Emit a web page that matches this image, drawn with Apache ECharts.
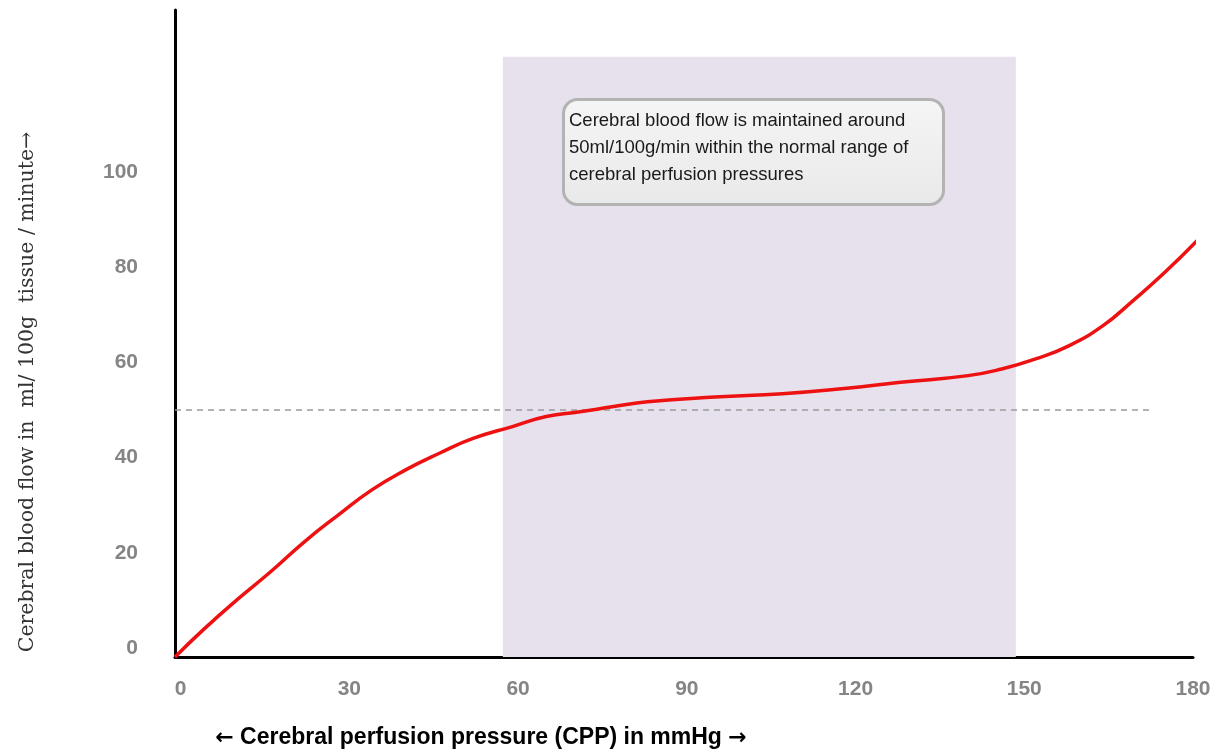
<!DOCTYPE html>
<html>
<head>
<meta charset="utf-8">
<script src="https://cdn.jsdelivr.net/npm/echarts@6/dist/echarts.min.js"></script>
<style>
html,body{margin:0;padding:0;background:#fff;}
#chart{width:1222px;height:754px;}
</style>
</head>
<body>
<div id="chart"></div>
<script>
// Data
var cppValues = [-1, 4, 10, 16, 22, 28, 34, 40, 46, 52, 59, 65, 71, 77, 83, 95, 107, 118, 128, 140, 146, 152, 158, 164, 169, 175, 181];
var cbfValues = [-1.9, 3.8, 10.1, 16, 22.3, 27.9, 33.2, 37.4, 40.9, 44, 46.5, 48.6, 49.6, 50.7, 51.7, 52.7, 53.4, 54.5, 55.8, 57.2, 58.6, 60.7, 63.5, 67.7, 72.6, 78.9, 85.9];
var xTickLabels = [0, 30, 60, 90, 120, 150, 180];
var yTickLabels = [0, 20, 40, 60, 80, 100];
var normalRange = [57.3, 148.5];
var normalFlow = 50;
var dashEnd = 172.4;
var noteLines = ['Cerebral blood flow is maintained around', '50ml/100g/min within the normal range of', 'cerebral perfusion pressures'];
var xTitle = 'Cerebral perfusion pressure (CPP) in mmHg';
var yTitle = 'Cerebral blood flow in  ml/ 100g  tissue / minute\u2192';

var chart = echarts.init(document.getElementById('chart'));
var sans = '"Liberation Sans", Arial, sans-serif';
var pts = cppValues.map(function (x, i) { return [x, cbfValues[i]]; });

chart.setOption({
  animation: false,
  grid: { left: 175, right: 29, top: 10, bottom: 97 },
  xAxis: {
    type: 'value', min: -1, max: 180,
    splitLine: { show: false },
    axisLine: { onZero: false, lineStyle: { color: '#000', width: 3 } },
    axisTick: { show: false },
    axisLabel: {
      customValues: xTickLabels, margin: 22,
      color: '#858585', fontSize: 21, fontWeight: 'bold', fontFamily: sans
    }
  },
  yAxis: {
    type: 'value', min: -1.9, max: 134,
    splitLine: { show: false },
    axisLine: { show: true, onZero: false, lineStyle: { color: '#000', width: 3 } },
    axisTick: { show: false },
    axisLabel: {
      customValues: yTickLabels, margin: 37,
      color: '#858585', fontSize: 21, fontWeight: 'bold', fontFamily: sans
    }
  },
  series: [{
    type: 'line',
    data: pts,
    smooth: 0.5,
    clip: false,
    showSymbol: false,
    lineStyle: { color: '#ee1111', width: 3.5 },
    z: 5,
    markArea: {
      silent: true,
      itemStyle: { color: '#e6e1ec' },
      data: [[{ xAxis: normalRange[0], yAxis: -1.9 }, { xAxis: normalRange[1], yAxis: 124.2 }]]
    },
    markLine: {
      silent: true, symbol: 'none',
      label: { show: false },
      lineStyle: { color: '#9a9a9a', type: [6, 5], width: 1.5 },
      data: [[{ coord: [-1, normalFlow] }, { coord: [dashEnd, normalFlow] }]]
    }
  }],
  graphic: [
    {
      type: 'rect', left: 562, top: 98, z: 10,
      shape: { width: 380, height: 105, r: 14 },
      style: {
        fill: new echarts.graphic.LinearGradient(0, 0, 0, 1, [
          { offset: 0, color: '#f5f5f5' }, { offset: 1, color: '#e9e9e9' }
        ]),
        stroke: '#b3b3b3', lineWidth: 3
      }
    },
    {
      type: 'text', left: 569, top: 107, z: 11,
      style: {
        text: noteLines.join('\n'), fill: '#1a1a1a',
        font: '18.5px ' + sans, lineHeight: 27
      }
    },
    {
      type: 'text', x: 481, y: 738, z: 11,
      style: {
        text: '{a|\u2190} ' + xTitle + ' {a|\u2192}', fill: '#000', align: 'center', verticalAlign: 'middle',
        font: 'bold 23px ' + sans,
        rich: {
          a: { fontFamily: '"DejaVu Sans"', fontWeight: 'bold', fontSize: 22, fill: '#000' }
        }
      }
    },
    {
      type: 'text', x: 28, y: 392, rotation: Math.PI / 2, z: 11,
      style: {
        text: yTitle, fill: '#333', align: 'center', verticalAlign: 'middle',
        font: '20.5px "DejaVu Serif", serif'
      }
    }
  ]
});
</script>
</body>
</html>
